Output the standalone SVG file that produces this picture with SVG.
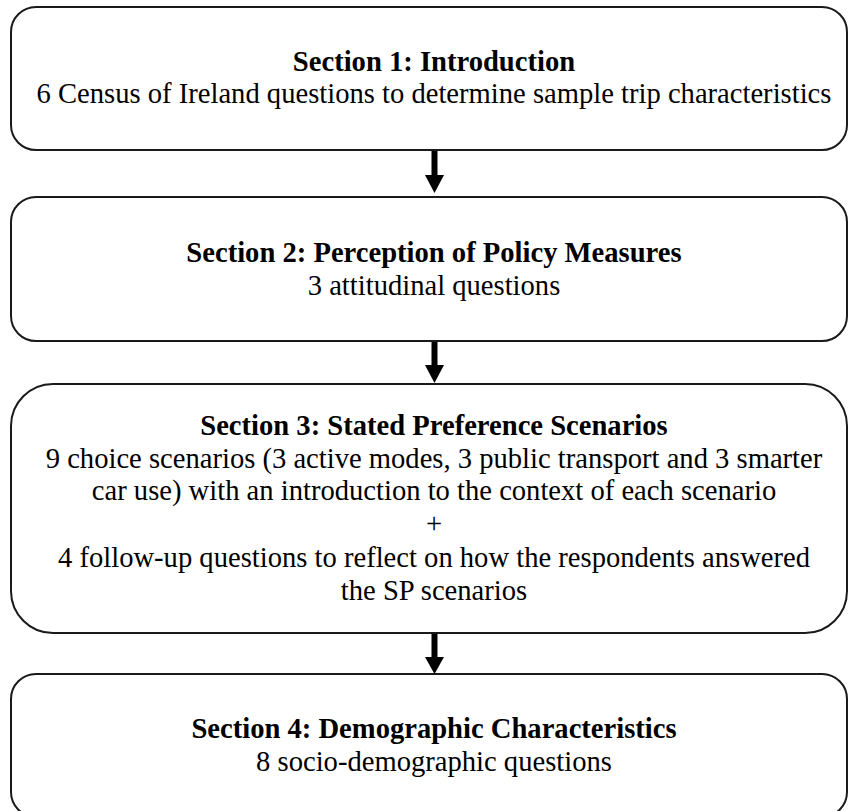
<svg xmlns="http://www.w3.org/2000/svg" width="849" height="811" viewBox="0 0 849 811">
  <style>
    .box { fill: #ffffff; stroke: #1a1a1a; stroke-width: 2; }
    .title { font-family: "Liberation Serif", "Times New Roman", serif; font-size: 28.6px; font-weight: bold; fill: #000; text-anchor: middle; }
    .body { font-family: "Liberation Serif", "Times New Roman", serif; font-size: 28.6px; fill: #000; text-anchor: middle; }
    .shaft { stroke: #000; stroke-width: 6; fill: none; }
    .head { fill: #000; }
  </style>
  <rect width="849" height="811" fill="#ffffff"/>

  <g id="section1">
    <rect class="box" x="11" y="7" width="836" height="143" rx="25" ry="25"/>
    <text class="title" x="434" y="71">Section 1: Introduction</text>
    <text class="body" x="434" y="103">6 Census of Ireland questions to determine sample trip characteristics</text>
  </g>

  <g id="section2">
    <rect class="box" x="11" y="197" width="836" height="144" rx="25" ry="25"/>
    <text class="title" x="434" y="262">Section 2: Perception of Policy Measures</text>
    <text class="body" x="434" y="295">3 attitudinal questions</text>
  </g>

  <g id="section3">
    <rect class="box" x="11" y="384" width="836" height="249" rx="42" ry="42"/>
    <text class="title" x="434" y="435">Section 3: Stated Preference Scenarios</text>
    <text class="body" x="434" y="468">9 choice scenarios (3 active modes, 3 public transport and 3 smarter</text>
    <text class="body" x="434" y="500">car use) with an introduction to the context of each scenario</text>
    <text class="body" x="434" y="533">+</text>
    <text class="body" x="434" y="567">4 follow-up questions to reflect on how the respondents answered</text>
    <text class="body" x="434" y="600">the SP scenarios</text>
  </g>

  <g id="section4">
    <rect class="box" x="11" y="674" width="836" height="143" rx="25" ry="25"/>
    <text class="title" x="434" y="738">Section 4: Demographic Characteristics</text>
    <text class="body" x="434" y="771">8 socio-demographic questions</text>
  </g>

  <g id="connectors">
    <line class="shaft" x1="434.5" y1="151" x2="434.5" y2="176"/>
    <polygon class="head" points="425,175 444,175 434.5,193"/>
    <line class="shaft" x1="434.5" y1="342" x2="434.5" y2="366"/>
    <polygon class="head" points="425,365 444,365 434.5,383"/>
    <line class="shaft" x1="434.5" y1="634" x2="434.5" y2="658"/>
    <polygon class="head" points="425,657 444,657 434.5,674"/>
  </g>
</svg>
